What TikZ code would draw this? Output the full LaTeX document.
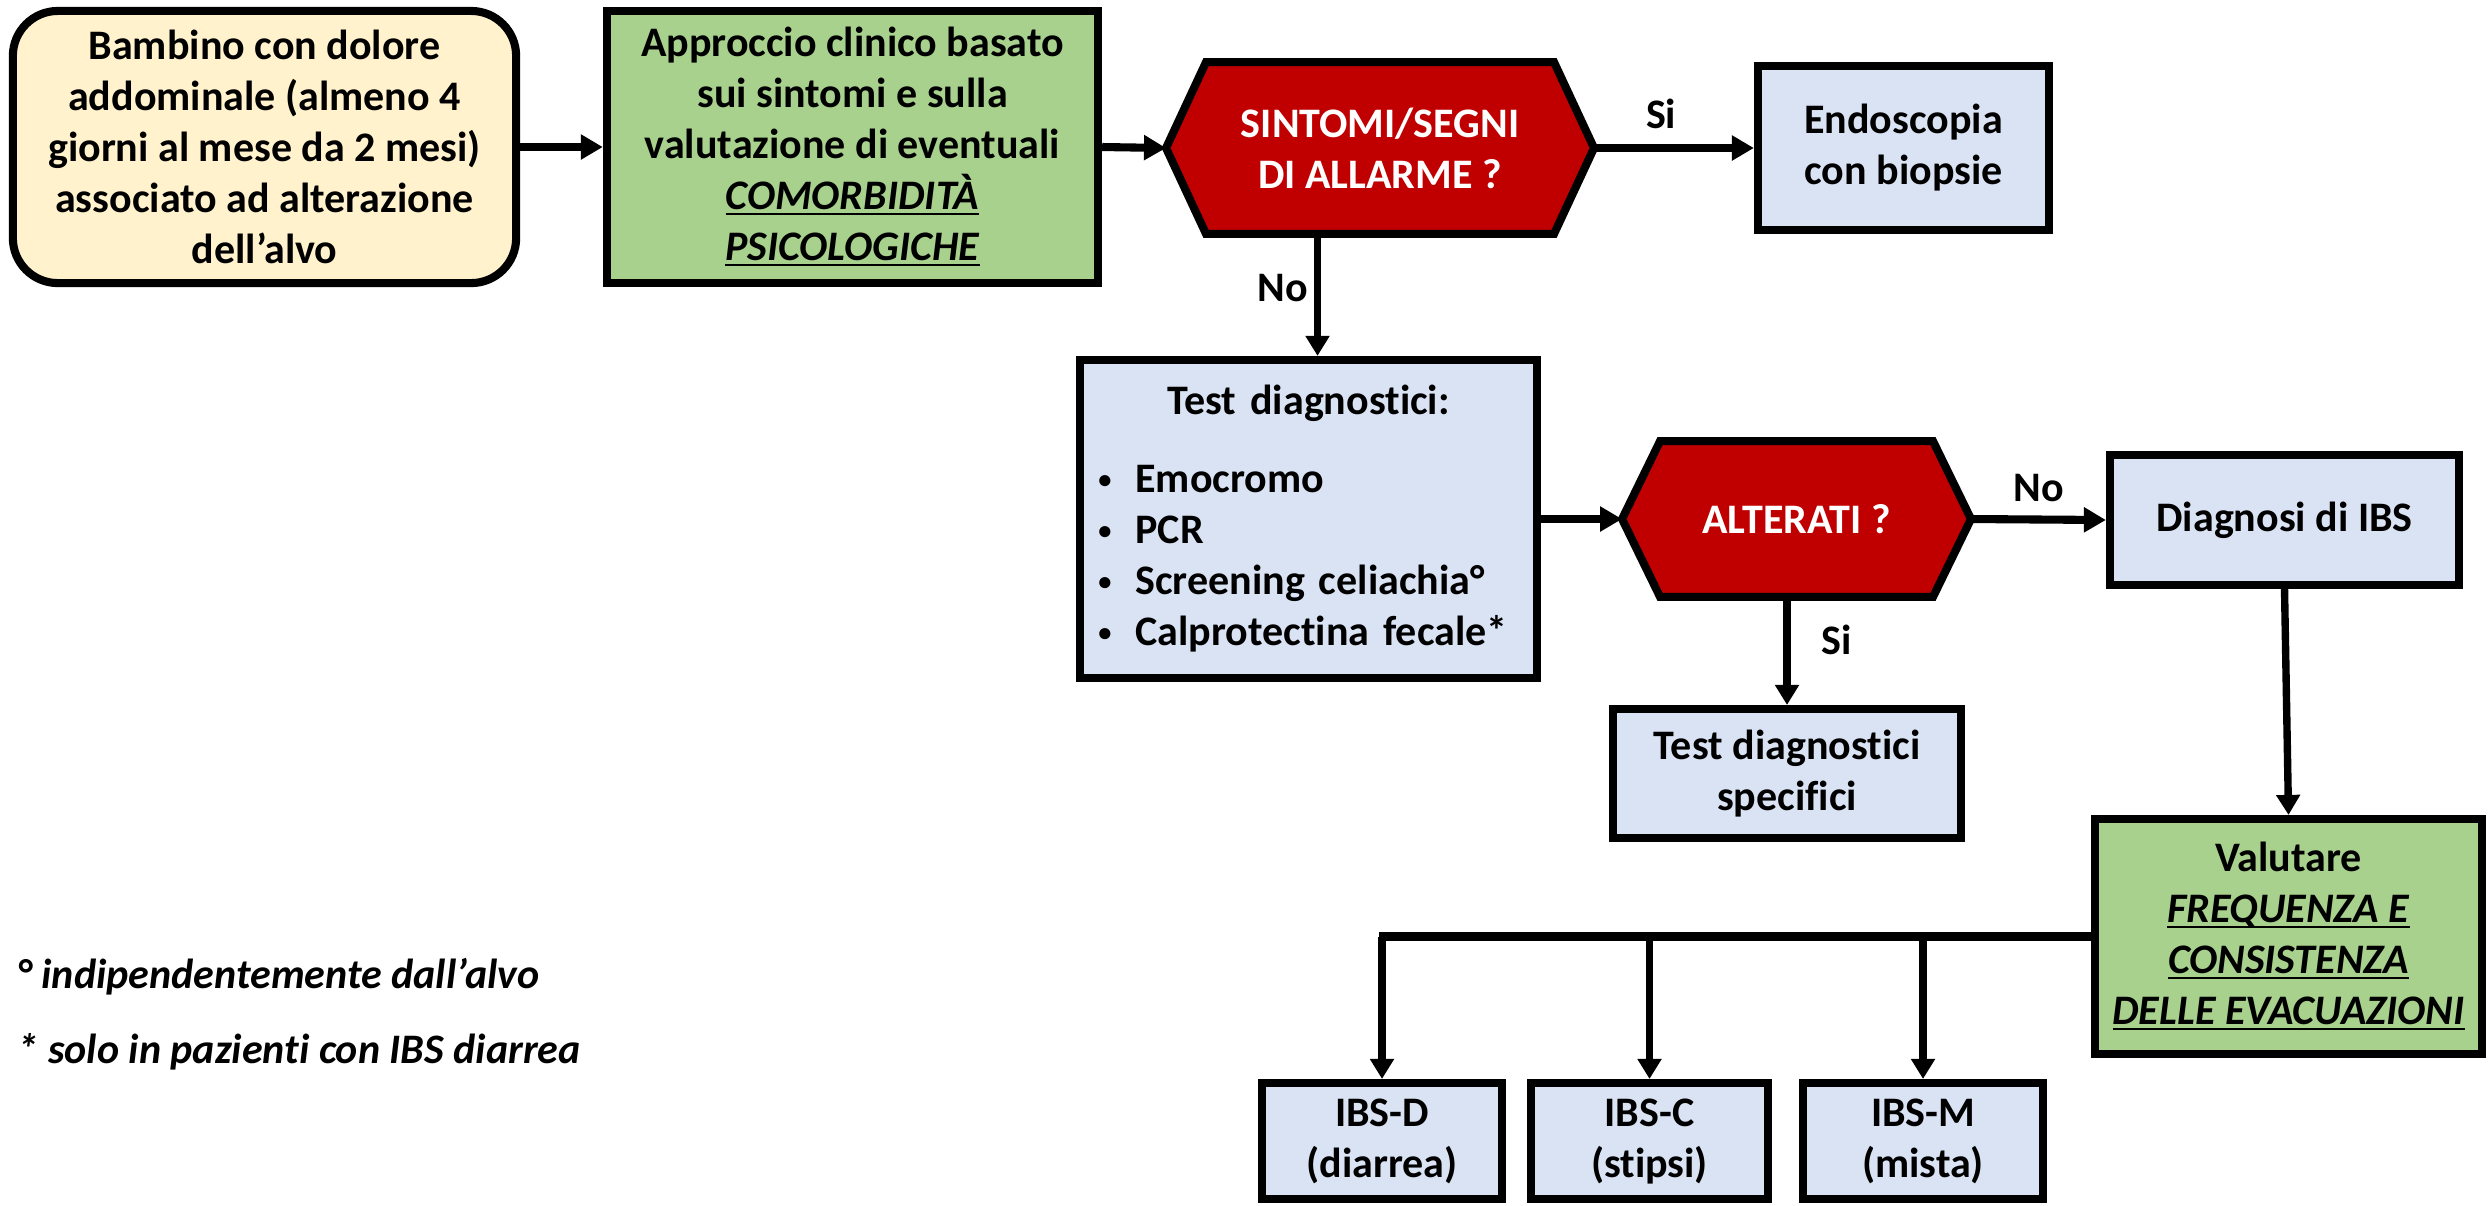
\documentclass[tikz,border=0pt]{standalone}
\usepackage{fontspec}
\setmainfont{Carlito}[Ligatures=NoCommon]
\usetikzlibrary{arrows.meta,calc,backgrounds}
\definecolor{cYellow}{HTML}{FFF2CC}
\definecolor{cGreen}{HTML}{A9D18E}
\definecolor{cBlue}{HTML}{DAE3F3}
\definecolor{cRed}{HTML}{C00000}
\newcommand{\ulit}[1]{\underline{\smash{\textit{#1}}}}
\newcommand{\bul}{\makebox[0.37cm][l]{\raisebox{1.4pt}{\fontsize{7.5}{7.5}\selectfont\textbullet}}}
\begin{document}
\begin{tikzpicture}[x=0.01cm,y=-0.01cm,
  every node/.style={font=\fontsize{11.95}{14.5}\selectfont\bfseries},
  box/.style={draw=black, line width=2.3pt, align=center, inner sep=0pt},
  hexnode/.style={inner sep=0pt, outer sep=1.1pt, align=center, text=white},
  hexshape/.style={draw=black, line width=2.3pt, fill=cRed, line join=miter},
  bigarrow/.style={line width=2.3pt, -{Triangle[length=0.22cm,width=0.24cm]}},
  thinarrow/.style={line width=2.1pt, -{Triangle[length=0.2cm,width=0.23cm]}},
  lbl/.style={inner sep=0pt},
  foot/.style={font=\fontsize{11.95}{14.5}\selectfont\bfseries\itshape, inner sep=0pt, anchor=base west}
]
\useasboundingbox (0,0) rectangle (2489,1205);

% nodes
\node[box, fill=cYellow, rounded corners=0.45cm, minimum width=5.03cm, minimum height=2.72cm] (start) at (264.5,147)
  {Bambino con dolore\\addominale (almeno 4\\giorni al mese da 2 mesi)\\associato ad alterazione\\dell’alvo};
\node[box, fill=cGreen, minimum width=4.91cm, minimum height=2.72cm] (clin) at (852.5,147)
  {Approccio clinico basato\\sui sintomi e sulla\\valutazione di eventuali\\\ulit{COMORBIDITÀ}\\\ulit{PSICOLOGICHE}};
\node[hexnode, minimum width=4.2cm, minimum height=1.64cm] (alarm) at (1380,148) {SINTOMI/SEGNI\\DI ALLARME ?};
\node[box, fill=cBlue, minimum width=2.91cm, minimum height=1.64cm] (endo) at (1903.5,148) {Endoscopia\\con biopsie};
\node[box, fill=cBlue, minimum width=4.57cm, minimum height=3.18cm, text width=4.2cm, align=left] (test) at (1308.5,519)
  {{\centering Test diagnostici:\par}\vspace{0.27cm}%
   \bul Emocromo\par
   \bul PCR\par
   \bul Screening celiachia°\par
   \bul Calprotectina fecale*};
\node[hexnode, minimum width=3.41cm, minimum height=1.48cm] (alt) at (1796.5,519) {ALTERATI ?};
\node[box, fill=cBlue, minimum width=3.49cm, minimum height=1.3cm] (diag) at (2284.5,520) {Diagnosi di IBS};
\node[box, fill=cBlue, minimum width=3.48cm, minimum height=1.29cm] (spec) at (1787,773.5) {Test diagnostici\\specifici};
\node[box, fill=cGreen, minimum width=3.87cm, minimum height=2.35cm] (val) at (2288.5,936.5)
  {Valutare\\\ulit{FREQUENZA E}\\\ulit{CONSISTENZA}\\\ulit{DELLE EVACUAZIONI}};
\node[box, fill=cBlue, minimum width=2.4cm, minimum height=1.16cm] (ibsd) at (1382,1141) {IBS-D\\(diarrea)};
\node[box, fill=cBlue, minimum width=2.37cm, minimum height=1.16cm] (ibsc) at (1649.5,1141) {IBS-C\\(stipsi)};
\node[box, fill=cBlue, minimum width=2.4cm, minimum height=1.16cm] (ibsm) at (1923,1141) {IBS-M\\(mista)};

\node[foot] (fn1) at (17,988) {° indipendentemente dall’alvo};
\node[foot] (fn2) at (17,1063) {* solo in pazienti con IBS diarrea};

% hexagons
\begin{scope}[on background layer]
  \draw[hexshape] (alarm.west) -- ($(alarm.north west)+(40,0)$) -- ($(alarm.north east)+(-40,0)$) -- (alarm.east)
    -- ($(alarm.south east)+(-40,0)$) -- ($(alarm.south west)+(40,0)$) -- cycle;
  \draw[hexshape] (alt.west) -- ($(alt.north west)+(38,0)$) -- ($(alt.north east)+(-38,0)$) -- (alt.east)
    -- ($(alt.south east)+(-38,0)$) -- ($(alt.south west)+(38,0)$) -- cycle;
\end{scope}

% connectors
\draw[bigarrow] (start.east) -- (clin.west);
\draw[bigarrow] (clin.east) -- (alarm.west);
\draw[bigarrow] (alarm.east) -- (endo.west) node[lbl, pos=0.42, yshift=0.34cm] {Si};
\coordinate (t1) at ($(test.north)+(9,0)$);
\draw[thinarrow] (alarm.south -| t1) -- (t1) node[lbl, pos=0.44, xshift=-0.35cm] {No};
\draw[bigarrow] (test.east) -- (alt.west);
\draw[bigarrow] (alt.east) -- (diag.west) node[lbl, pos=0.5, yshift=0.31cm] {No};
\draw[thinarrow] (alt.south -| spec.north) -- (spec.north) node[lbl, pos=0.4, xshift=0.5cm] {Si};
\draw[thinarrow] (diag.south) -- (val.north);
\coordinate (b1) at (val.west -| ibsd.north);
\coordinate (b2) at (val.west -| ibsc.north);
\coordinate (b3) at (val.west -| ibsm.north);
\draw[line width=2.3pt] (val.west) -- ($(b1)+(-3.5,0)$);
\draw[thinarrow] (b1) -- (ibsd.north);
\draw[thinarrow] (b2) -- (ibsc.north);
\draw[thinarrow] (b3) -- (ibsm.north);
\end{tikzpicture}
\end{document}
